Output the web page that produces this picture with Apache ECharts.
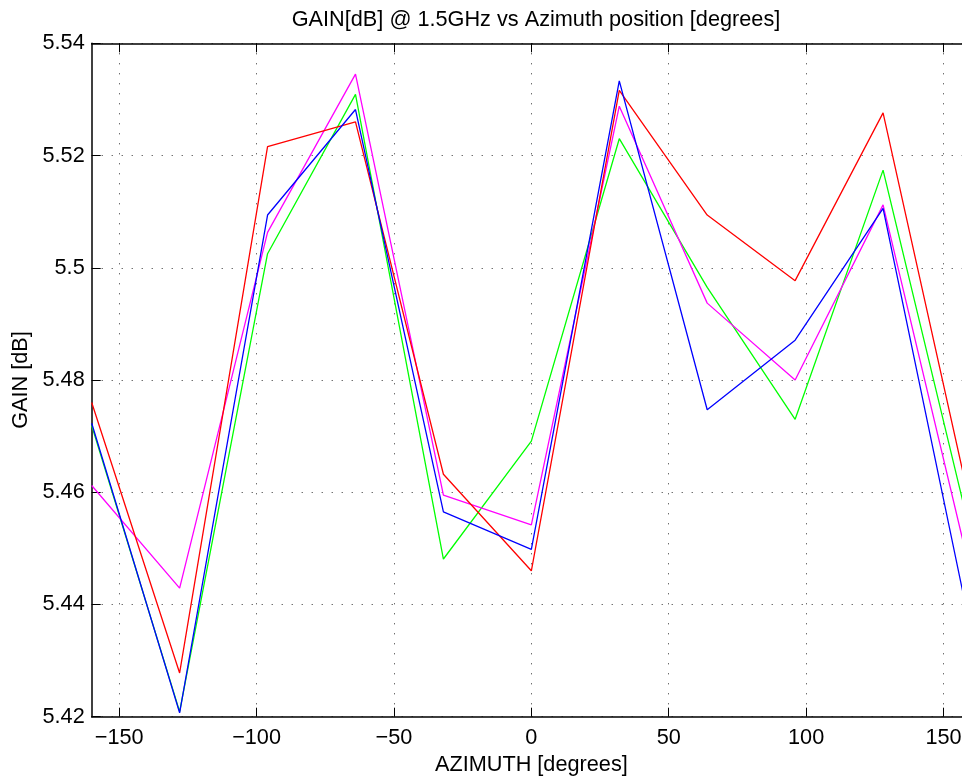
<!DOCTYPE html>
<html>
<head>
<meta charset="utf-8">
<script src="https://cdn.jsdelivr.net/npm/echarts@6/dist/echarts.min.js"></script>
<style>
html,body{margin:0;padding:0;background:#fff;}
#chart{width:962px;height:776px;}
</style>
</head>
<body>
<div id="chart"></div>
<script>
// Data
const azimuth = [-160, -128, -96, -64, -32, 0, 32, 64, 96, 128, 160];
const redGain     = [5.4760, 5.4278, 5.5216, 5.5260, 5.4632, 5.4460, 5.5316, 5.5094, 5.4977, 5.5276, 5.4571];
const greenGain   = [5.4719, 5.4209, 5.5025, 5.5309, 5.4481, 5.4691, 5.5230, 5.4965, 5.4730, 5.5174, 5.4523];
const magentaGain = [5.4612, 5.4429, 5.5063, 5.5345, 5.4595, 5.4542, 5.5288, 5.4937, 5.4800, 5.5112, 5.4453];
const blueGain    = [5.4723, 5.4207, 5.5094, 5.5282, 5.4565, 5.4498, 5.5333, 5.4747, 5.4871, 5.5106, 5.4352];
const xTicks = [-150, -100, -50, 0, 50, 100, 150];
const yTicks = [5.42, 5.44, 5.46, 5.48, 5.5, 5.52, 5.54];
const titleText = 'GAIN[dB] @ 1.5GHz vs Azimuth position [degrees]';
const xName = 'AZIMUTH [degrees]';
const yName = 'GAIN [dB]';

const FONT = '"Liberation Sans", Arial, Helvetica, sans-serif';
const FS = 21.7;

function pairs(ys){ return azimuth.map((x,i)=>[x, ys[i]]); }

const chart = echarts.init(document.getElementById('chart'), null, {renderer:'canvas'});
const gridDots = {show:true, lineStyle:{color:'#333', width:1, type:[1,9]}};

chart.setOption({
  animation:false,
  backgroundColor:'#fff',
  title:{
    text: titleText, left: 531, top: 4, textAlign:'center',
    textStyle:{fontFamily:FONT, fontSize:FS, fontWeight:'normal', color:'#000'}
  },
  grid:{left:91.7, top:43.3, width:879.3, height:673.4, containLabel:false, outerBoundsMode:'none'},
  xAxis:[{
    type:'value', min:-160, max:160, position:'bottom',
    name:xName, nameLocation:'middle', nameGap:33,
    nameTextStyle:{fontFamily:FONT, fontSize:FS, color:'#000'},
    axisLine:{show:true, onZero:false, lineStyle:{color:'#000', width:1.5}},
    axisTick:{show:true, inside:true, length:9, customValues:xTicks, lineStyle:{color:'#000', width:1}},
    axisLabel:{show:true, customValues:xTicks, margin:10, fontFamily:FONT, fontSize:FS, color:'#000',
      formatter:v=>String(v).replace('-', '\u2212')},
    splitLine:gridDots
  },{
    type:'value', min:-160, max:160, position:'top',
    axisLine:{show:true, onZero:false, lineStyle:{color:'#000', width:1.5}},
    axisTick:{show:true, inside:true, length:9, customValues:xTicks, lineStyle:{color:'#000', width:1}},
    axisLabel:{show:false},
    splitLine:{show:false}
  }],
  yAxis:[{
    type:'value', min:5.42, max:5.54, interval:0.02, position:'left',
    name:yName, nameLocation:'middle', nameGap:59, nameRotate:90,
    nameTextStyle:{fontFamily:FONT, fontSize:FS, color:'#000'},
    axisLine:{show:true, onZero:false, lineStyle:{color:'#000', width:1.5}},
    axisTick:{show:true, inside:true, length:9, lineStyle:{color:'#000', width:1}},
    axisLabel:{show:true, margin:7, fontFamily:FONT, fontSize:FS, color:'#000',
      formatter:v=>String(+(+v).toFixed(2))},
    splitLine:gridDots
  }],
  series:[
    {name:'green', type:'line', data:pairs(greenGain), symbol:'none', lineStyle:{color:'#00ff00', width:1.3}, itemStyle:{color:'#00ff00'}},
    {name:'magenta', type:'line', data:pairs(magentaGain), symbol:'none', lineStyle:{color:'#ff00ff', width:1.3}, itemStyle:{color:'#ff00ff'}},
    {name:'red', type:'line', data:pairs(redGain), symbol:'none', lineStyle:{color:'#ff0000', width:1.3}, itemStyle:{color:'#ff0000'}},
    {name:'blue', type:'line', data:pairs(blueGain), symbol:'none', lineStyle:{color:'#0000ff', width:1.3}, itemStyle:{color:'#0000ff'}}
  ]
});
</script>
</body>
</html>
